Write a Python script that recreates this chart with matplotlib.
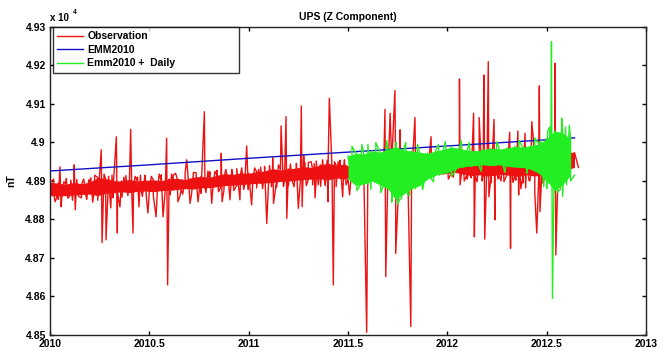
import numpy as np
import matplotlib.pyplot as plt

plt.rcParams['font.family'] = ['Liberation Sans', 'DejaVu Sans']
plt.rcParams['font.weight'] = 'bold'

# Observed Z component (nT): upper / lower edge of the daily band, every 0.04 yr from 2010.00
obs_hi = [48897, 48894, 48892, 48896, 48893, 48897, 48909, 48906, 48901, 48900,
          48904, 48900, 48902, 48903, 48901, 48905, 48907, 48904, 48910, 48912,
          48909, 48915, 48919, 48917, 48921, 48920, 48924, 48926, 48932, 48929,
          48931, 48934, 48937, 48935, 48942, 48946, 48941, 48944, 48936, 48940,
          48938, 48942, 48944, 48946, 48943, 48944, 48946, 48948, 48950, 48952,
          48955, 48957, 48958, 48960, 48962, 48960, 48961, 48963, 48962, 48964,
          48966, 48968, 48970, 48975, 48978, 48976, 48974]
obs_lo = [48862, 48861, 48862, 48864, 48865, 48866, 48862, 48868, 48869, 48872,
          48870, 48873, 48874, 48872, 48875, 48876, 48878, 48880, 48879, 48882,
          48883, 48885, 48888, 48889, 48891, 48892, 48894, 48895, 48896, 48899,
          48900, 48902, 48904, 48905, 48906, 48903, 48908, 48905, 48911, 48906,
          48904, 48900, 48898, 48895, 48900, 48906, 48912, 48915, 48916, 48918,
          48920, 48922, 48918, 48914, 48916, 48913, 48915, 48917, 48914, 48912,
          48916, 48913, 48915, 48918, 48925, 48930, 48935]

# storm-time excursions in the observations (year, nT)
obs_spike_t = [2010.026, 2010.050, 2010.056, 2010.122, 2010.127, 2010.170, 2010.258, 2010.262,
               2010.282, 2010.306, 2010.334, 2010.339, 2010.352, 2010.406, 2010.418, 2010.440,
               2010.448, 2010.493, 2010.534, 2010.569, 2010.587, 2010.592, 2010.620, 2010.644,
               2010.688, 2010.705, 2010.745, 2010.777, 2010.814, 2010.830, 2010.862, 2010.866,
               2010.906, 2010.956, 2010.990, 2011.015, 2011.050, 2011.091, 2011.121, 2011.125,
               2011.163, 2011.188, 2011.192, 2011.250, 2011.265, 2011.269, 2011.277, 2011.300,
               2011.330, 2011.334, 2011.399, 2011.406, 2011.426, 2011.450, 2011.473, 2011.508,
               2011.594, 2011.624, 2011.686, 2011.690, 2011.712, 2011.736, 2011.740, 2011.762,
               2011.765, 2011.816, 2011.837, 2011.918, 2012.061, 2012.064, 2012.100, 2012.132,
               2012.136, 2012.150, 2012.160, 2012.184, 2012.188, 2012.206, 2012.209, 2012.220,
               2012.235, 2012.239, 2012.270, 2012.314, 2012.318, 2012.330, 2012.355, 2012.359,
               2012.370, 2012.391, 2012.394, 2012.410, 2012.425, 2012.440, 2012.450, 2012.463,
               2012.466, 2012.542, 2012.546]
obs_spike_v = [48846, 48937, 48833, 48942, 48825, 48905, 48981, 48740,
               48747, 48830, 49015, 48765, 48833, 49034, 48765, 48910,
               48833, 48817, 48807, 48807, 49011, 48630, 48915, 48846,
               48955, 48842, 48846, 49080, 48842, 48925, 48972, 48846,
               48851, 48851, 48991, 48838, 48930, 48790, 48960, 48842,
               49043, 49067, 48803, 48829, 49095, 48833, 48966, 48948,
               48945, 48856, 48846, 49115, 48630, 48950, 48859, 48864,
               48507, 48963, 49086, 48652, 49076, 49135, 48712, 49033,
               48864, 48522, 49065, 49015, 49165, 48890, 48905, 49076,
               48755, 48898, 49065, 49175, 48749, 49210, 48859, 48895,
               49060, 48799, 48900, 49027, 48725, 48896, 49030, 48864,
               48880, 49024, 48882, 48903, 49054, 48870, 48765, 49147,
               48820, 49206, 48708]

# smaller day-to-day disturbances around the observed band (year, nT)
obs_small = [(2010.010, 48900), (2010.018, 48905), (2010.034, 48858), (2010.042, 48852),
             (2010.070, 48898), (2010.082, 48906), (2010.090, 48855), (2010.105, 48902),
             (2010.113, 48850), (2010.135, 48904), (2010.145, 48860), (2010.158, 48856),
             (2010.185, 48852), (2010.195, 48903), (2010.205, 48908), (2010.215, 48845),
             (2010.225, 48915), (2010.240, 48850), (2010.250, 48920), (2010.272, 48918),
             (2010.290, 48850), (2010.295, 48912), (2010.312, 48915), (2010.318, 48856),
             (2010.362, 48858), (2010.372, 48910), (2010.382, 48914), (2010.392, 48862),
             (2010.412, 48860), (2010.428, 48912), (2010.455, 48915), (2010.465, 48860),
             (2010.478, 48915), (2010.485, 48858), (2010.510, 48912), (2010.520, 48862),
             (2010.550, 48918), (2010.560, 48916), (2010.578, 48860), (2010.605, 48864),
             (2010.612, 48918), (2010.632, 48920), (2010.655, 48862), (2010.668, 48866),
             (2010.680, 48920), (2010.712, 48864), (2010.722, 48922), (2010.735, 48922),
             (2010.760, 48868), (2010.785, 48870), (2010.795, 48926), (2010.805, 48924),
             (2010.840, 48928), (2010.848, 48872), (2010.875, 48874), (2010.885, 48930),
             (2010.915, 48930), (2010.925, 48875), (2010.940, 48932), (2010.965, 48934),
             (2010.975, 48878), (2010.998, 48878), (2011.030, 48934), (2011.040, 48882),
             (2011.060, 48936), (2011.070, 48880), (2011.080, 48938), (2011.105, 48940),
             (2011.115, 48885), (2011.140, 48884), (2011.150, 48942), (2011.175, 48886),
             (2011.200, 48888), (2011.210, 48944), (2011.228, 48885), (2011.240, 48946),
             (2011.282, 48948), (2011.290, 48888), (2011.315, 48950), (2011.322, 48890),
             (2011.340, 48952), (2011.350, 48890), (2011.362, 48886), (2011.372, 48955),
             (2011.385, 48888), (2011.395, 48954), (2011.418, 48952), (2011.432, 48950),
             (2011.440, 48885), (2011.460, 48954), (2011.482, 48955), (2011.490, 48890),
             (2012.005, 48905), (2012.030, 48910), (2012.085, 48900), (2012.120, 48908),
             (2012.175, 48900), (2012.255, 48905), (2012.285, 48898), (2012.345, 48902),
             (2012.380, 48895), (2012.415, 48900), (2012.480, 48895)]

# EMM2010 main field prediction
emm_t = [2010.0, 2010.5, 2011.0, 2011.5, 2012.0, 2012.5, 2012.64]
emm_v = [48926, 48942, 48959, 48975, 48991, 49007, 49012]

# EMM2010 + daily variation, every 0.04 yr from 2011.50
daily_hi = [48965, 48972, 48970, 48978, 48975, 48982, 48990, 48980, 48978, 48975,
            48972, 48978, 48982, 48988, 48985, 48980, 48978, 48982, 48985, 48983,
            48986, 48990, 48988, 48992, 48996, 49010, 49030, 49025, 49010]
daily_lo = [48905, 48888, 48892, 48900, 48890, 48880, 48852, 48866, 48880, 48888,
            48905, 48915, 48920, 48925, 48935, 48938, 48940, 48942, 48940, 48942,
            48938, 48936, 48935, 48930, 48920, 48900, 48875, 48890, 48915]
daily_spike_t = [2011.600, 2011.720, 2011.742, 2011.770, 2011.990, 2012.070, 2012.470,
                 2012.500, 2012.505, 2012.524, 2012.529, 2012.568, 2012.576, 2012.580,
                 2012.614]
daily_spike_v = [48995, 48845, 49000, 48855, 49002, 49005, 49005,
                 48880, 49030, 49262, 48595, 48877, 49063, 48860,
                 49045]
daily_small = [(2011.520, 48990), (2011.545, 48875), (2011.570, 48995), (2011.615, 48878),
               (2011.640, 49000), (2011.665, 48870), (2011.695, 49005), (2011.750, 48840),
               (2011.790, 49000), (2011.810, 48862), (2011.850, 48995), (2011.875, 48878),
               (2011.930, 48898), (2011.955, 48995), (2012.020, 48912), (2012.110, 49000),
               (2012.170, 48925), (2012.250, 49002), (2012.290, 48922), (2012.360, 49005),
               (2012.400, 48920), (2012.440, 49012), (2012.485, 48885), (2012.515, 49040),
               (2012.555, 48870), (2012.595, 49040), (2012.620, 48900)]


def build_series(t0, hi, lo, spike_t, spike_v, small):
    small_t, small_v = zip(*small)
    env_t = t0 + 0.04 * np.arange(len(hi))
    t = np.concatenate([env_t, env_t + 0.02, spike_t, small_t])
    v = np.concatenate([hi, lo, spike_v, small_v])
    order = np.argsort(t, kind='stable')
    return env_t, t[order], v[order]


obs_env_t, obs_t, obs_v = build_series(2010.0, obs_hi, obs_lo, obs_spike_t, obs_spike_v, obs_small)
day_env_t, day_t, day_v = build_series(2011.5, daily_hi, daily_lo, daily_spike_t, daily_spike_v,
                                       daily_small)

red = '#ee1111'
green = '#22ee22'
blue = '#1010c8'

fig = plt.figure(figsize=(6.57, 3.51), dpi=100)
ax = fig.add_axes([0.0761, 0.0456, 0.9072, 0.8775])

# values are plotted in units of 1e4 nT
ax.fill_between(obs_env_t, np.array(obs_lo) / 1e4, np.array(obs_hi) / 1e4,
                color=red, lw=0, zorder=2)
ax.plot(obs_t, obs_v / 1e4, color=red, lw=1.0, zorder=2, label='Observation')
ax.plot(emm_t, np.array(emm_v) / 1e4, color=blue, lw=1.0, zorder=3, label='EMM2010')
ax.fill_between(day_env_t, np.array(daily_lo) / 1e4, np.array(daily_hi) / 1e4,
                color=green, lw=0, zorder=4)
ax.plot(day_t, day_v / 1e4, color=green, lw=1.0, zorder=4, label='Emm2010 +  Daily')

ax.set_xlim(2010, 2013)
ax.set_ylim(4.85, 4.93)
xt = [2010, 2010.5, 2011, 2011.5, 2012, 2012.5, 2013]
ax.set_xticks(xt)
ax.set_xticklabels(['2010', '2010.5', '2011', '2011.5', '2012', '2012.5', '2013'])
yt = [4.85, 4.86, 4.87, 4.88, 4.89, 4.90, 4.91, 4.92, 4.93]
ax.set_yticks(yt)
ax.set_yticklabels(['4.85', '4.86', '4.87', '4.88', '4.89', '4.9', '4.91', '4.92', '4.93'])
ax.tick_params(direction='in', length=3, width=1, labelsize=7.5, pad=3,
               top=True, right=True, labeltop=False, labelright=False)
for s in ax.spines.values():
    s.set_linewidth(1.0)
    s.set_color('#222222')

ax.set_title('UPS (Z Component)', fontsize=7.5, fontweight='bold', pad=5)
ax.set_ylabel('nT', fontsize=7.5, fontweight='bold')
ax.yaxis.set_label_coords(-0.057, 0.5)
ax.text(0.0, 1.012, 'x 10', transform=ax.transAxes, fontsize=7, fontweight='bold',
        ha='left', va='bottom')
ax.text(0.038, 1.036, '4', transform=ax.transAxes, fontsize=5, fontweight='bold',
        ha='left', va='bottom')

leg = ax.legend(loc='upper left', bbox_to_anchor=(0.005, 0.99, 0.312, 0.01), mode='expand',
                borderaxespad=0, fontsize=7.5, frameon=True, fancybox=False,
                handlelength=2.5, handletextpad=0.4, labelspacing=0.35, borderpad=0.4)
leg.get_frame().set_edgecolor('black')
leg.get_frame().set_linewidth(1.0)
for txt in leg.get_texts():
    txt.set_fontweight('bold')

fig.savefig('out.png', dpi=100, facecolor='white')
